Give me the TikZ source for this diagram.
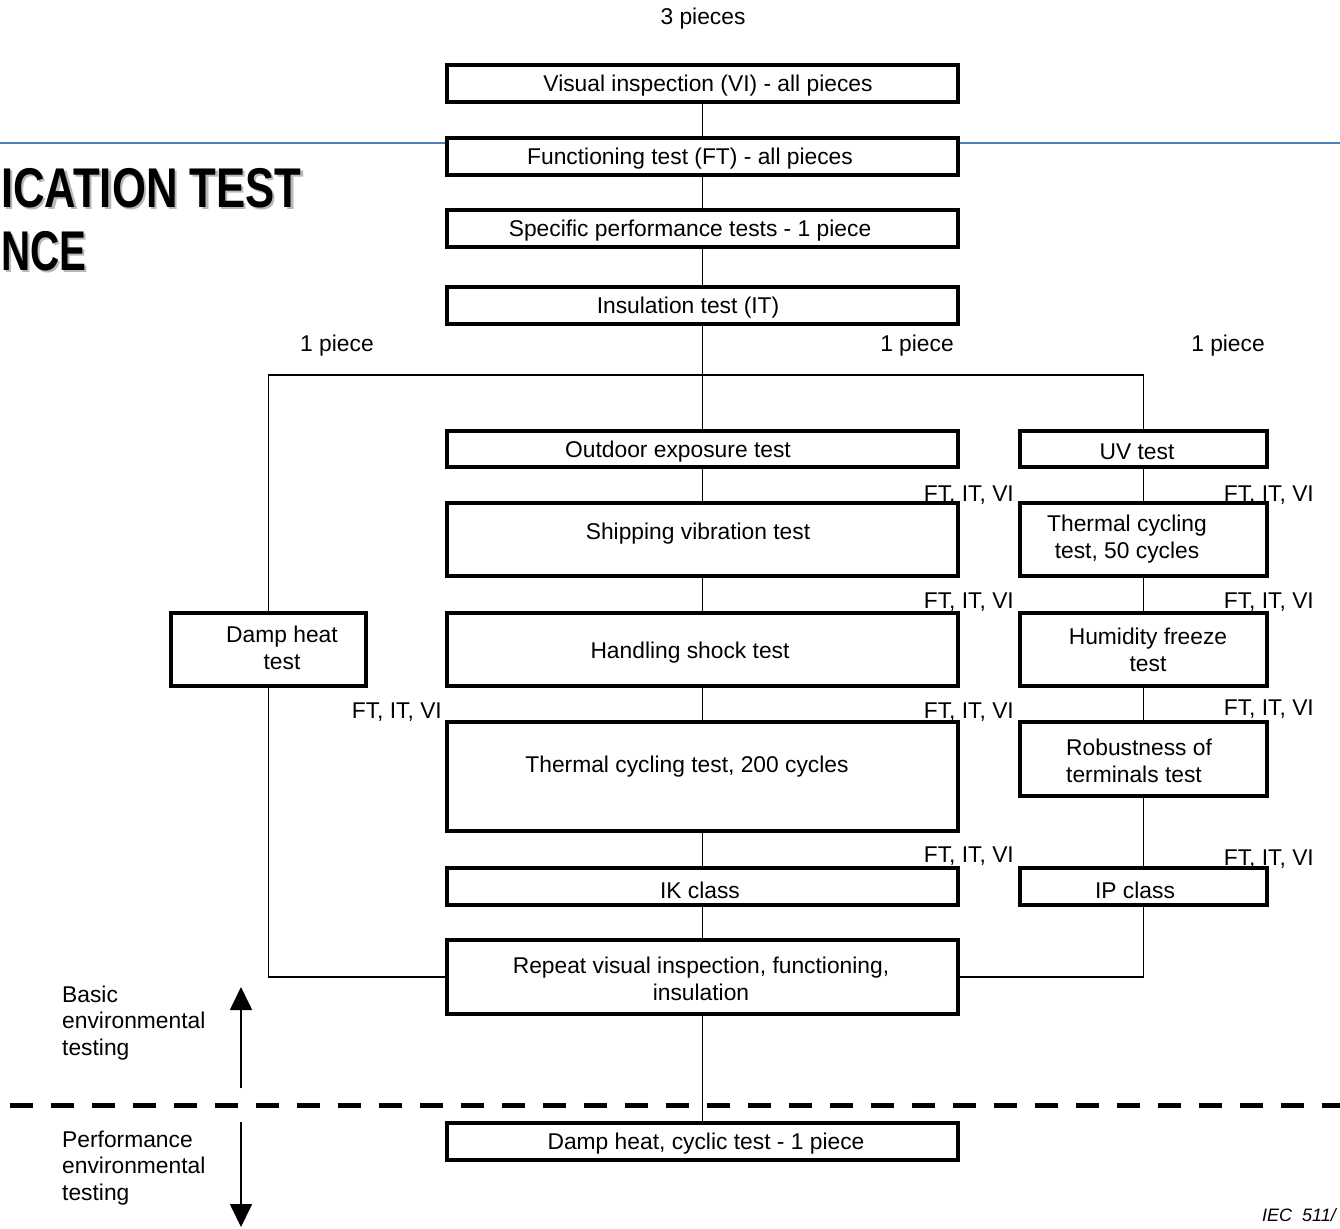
\documentclass[tikz,border=0pt]{standalone}
\usepackage{fontspec}
\setmainfont{Liberation Sans}
\usetikzlibrary{arrows.meta}
\newcommand\fs{\fontsize{22.8}{26.5}\selectfont}
\newcommand\shadowtext[1]{\makebox[0pt][l]{\hspace{2.5pt}\raisebox{-2.5pt}{\textcolor{black!28}{#1}}}#1}
\definecolor{ruleblue}{RGB}{79,129,189}
\begin{document}
\begin{tikzpicture}[x=1pt,y=-1pt,
  box/.style={draw, rectangle, line width=3.2pt, fill=white, inner sep=0pt},
  conn/.style={line width=1.7pt},
  txt/.style={font=\fs, inner sep=0pt, align=center, yshift=-2pt},
  lft/.style={font=\fs, inner sep=0pt, align=left, yshift=-2pt},
  lab/.style={font=\fs, inner sep=0pt, anchor=east, yshift=-2pt},
  ttl/.style={font=\fontsize{56}{60}\selectfont\bfseries, inner sep=0pt},
  sepline/.style={line width=5pt, dash pattern=on 23pt off 18pt},
  bigarrow/.style={line width=1.7pt, -{Triangle[width=22pt,length=23pt]}}]
\useasboundingbox (0,0) rectangle (1340,1228);
\clip (0,0) rectangle (1340,1228);

% blue rule
\coordinate (bl) at (0,143);
\coordinate (br) at (1340,143);
\draw[ruleblue, line width=1.6pt] (bl) -- (br);

% title fragments with shadow
\node[ttl, anchor=base west] (t1) at (1,207) {\shadowtext{\scalebox{0.78}[1]{ICATION TEST}}};
\node[ttl, anchor=base west] (t2) at (1,270) {\shadowtext{\scalebox{0.72}[1]{NCE}}};

% boxes
\node[box, minimum width=511pt, minimum height=37pt] (vi) at (702.5,83.5) {};
\node[box, minimum width=511pt, minimum height=37pt] (ft) at (702.5,156.5) {};
\node[box, minimum width=511pt, minimum height=37pt] (sp) at (702.5,228.5) {};
\node[box, minimum width=511pt, minimum height=37pt] (it) at (702.5,305.5) {};
\node[box, minimum width=511pt, minimum height=36pt] (out) at (702.5,449) {};
\node[box, minimum width=247pt, minimum height=36pt] (uv) at (1143.5,449) {};
\node[box, minimum width=511pt, minimum height=73pt] (ship) at (702.5,539.5) {};
\node[box, minimum width=247pt, minimum height=73pt] (tcf) at (1143.5,539.5) {};
\node[box, minimum width=195pt, minimum height=73pt] (damp) at (268.5,649.5) {};
\node[box, minimum width=511pt, minimum height=73pt] (hand) at (702.5,649.5) {};
\node[box, minimum width=247pt, minimum height=73pt] (hum) at (1143.5,649.5) {};
\node[box, minimum width=511pt, minimum height=109pt] (tct) at (702.5,776.5) {};
\node[box, minimum width=247pt, minimum height=74pt] (rob) at (1143.5,759) {};
\node[box, minimum width=511pt, minimum height=37pt] (ik) at (702.5,886.5) {};
\node[box, minimum width=247pt, minimum height=37pt] (ip) at (1143.5,886.5) {};
\node[box, minimum width=511pt, minimum height=74pt] (rep) at (702.5,977) {};
\node[box, minimum width=511pt, minimum height=37pt] (dcy) at (702.5,1141.5) {};

% box texts
\node[txt] (vit) at (708,84) {Visual inspection (VI) - all pieces};
\node[txt] (ftt) at (690,157) {Functioning test (FT) - all pieces};
\node[txt] (spt) at (690,229) {Specific performance tests - 1 piece};
\node[txt] (itt) at (688,306) {Insulation test (IT)};
\node[txt] (outt) at (678,450) {Outdoor exposure test};
\node[txt] (uvt) at (1137,450) {UV test};
\node[txt] (shipt) at (698,532) {Shipping vibration test};
\node[txt] (tcft) at (1127,537) {Thermal cycling\\test, 50 cycles};
\node[txt] (dampt) at (282,646) {Damp heat\\test};
\node[txt] (handt) at (690,651) {Handling shock test};
\node[txt] (humt) at (1148,648) {Humidity freeze\\test};
\node[txt] (tctt) at (687,765) {Thermal cycling test, 200 cycles};
\node[lft, anchor=west] (robt) at (1066,759) {Robustness of\\terminals test};
\node[txt] (ikt) at (700,888) {IK class};
\node[txt] (ipt) at (1135,888) {IP class};
\node[txt] (rept) at (701,977) {Repeat visual inspection, functioning,\\insulation};
\node[txt] (dcyt) at (706,1142) {Damp heat, cyclic test - 1 piece};

% free labels
\node[txt] (p3) at (703,17) {3 pieces};
\node[txt] (p1a) at (337,344) {1 piece};
\node[txt] (p1b) at (917,344) {1 piece};
\node[txt] (p1c) at (1228,344) {1 piece};
\node[lab] (m1) at (1014,493) {FT, IT, VI};
\node[lab] (m2) at (1014,600) {FT, IT, VI};
\node[lab] (m3) at (1014,710) {FT, IT, VI};
\node[lab] (m4) at (1014,854) {FT, IT, VI};
\node[lab] (r1) at (1314,493) {FT, IT, VI};
\node[lab] (r2) at (1314,600) {FT, IT, VI};
\node[lab] (r3) at (1314,707) {FT, IT, VI};
\node[lab] (r4) at (1314,857) {FT, IT, VI};
\node[lab] (l1) at (442,710) {FT, IT, VI};

% connectors
\draw[conn] (vi.south) -- (ft.north);
\draw[conn] (ft.south) -- (sp.north);
\draw[conn] (sp.south) -- (it.north);
\draw[conn] (it.south) -- (out.north);
\coordinate (jl) at (267,375);
\draw[conn] (damp.north) -- (damp.north |- jl) -- (uv.north |- jl) -- (uv.north);
\draw[conn] (out.south) -- (ship.north);
\draw[conn] (ship.south) -- (hand.north);
\draw[conn] (hand.south) -- (tct.north);
\draw[conn] (tct.south) -- (ik.north);
\draw[conn] (ik.south) -- (rep.north);
\draw[conn] (uv.south) -- (tcf.north);
\draw[conn] (tcf.south) -- (hum.north);
\draw[conn] (hum.south) -- (rob.north);
\draw[conn] (rob.south) -- (ip.north);
\draw[conn] (damp.south) |- (rep.west);
\draw[conn] (ip.south) |- (rep.east);
\draw[conn] (rep.south) -- (dcy.north);

% separator and arrows
\coordinate (dl) at (10,1105);
\coordinate (dr) at (1345,1105);
\draw[sepline] (dl) -- (dr);
\coordinate (ua) at (241,1088);
\coordinate (ub) at (241,987);
\coordinate (da) at (241,1122);
\coordinate (db) at (241,1227);
\draw[bigarrow] (ua) -- (ub);
\draw[bigarrow] (da) -- (db);
\node[lft, anchor=west] (basic) at (62,1021) {Basic\\environmental\\testing};
\node[lft, anchor=west] (perf) at (62,1166) {Performance\\environmental\\testing};

\node[font=\fontsize{18}{20}\selectfont\itshape, inner sep=0pt, anchor=base west] (iec) at (1262,1221) {IEC\ \ 511/};
\end{tikzpicture}
\end{document}
